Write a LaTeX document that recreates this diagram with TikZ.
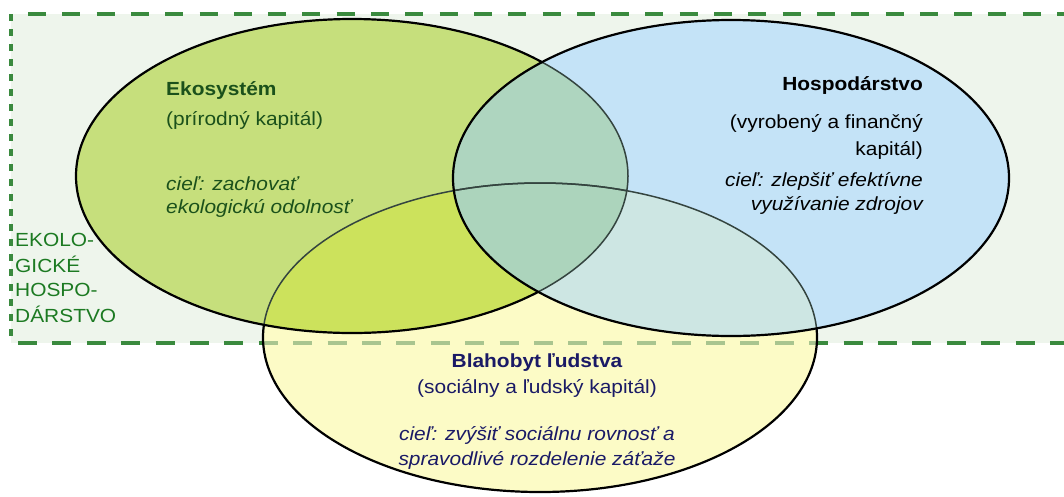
\documentclass[tikz,border=0pt]{standalone}
\usepackage{fontspec}
\setmainfont{Liberation Sans}[FakeStretch=1.1]
\definecolor{bgc}{HTML}{EEF5EC}
\definecolor{dashc}{HTML}{3A8A3E}
\definecolor{dashl}{HTML}{A9C58F}
\definecolor{grn}{HTML}{C6DF7C}
\definecolor{blu}{HTML}{C4E3F7}
\definecolor{yel}{HTML}{FCFBC6}
\definecolor{gbc}{HTML}{AED5BF}
\definecolor{gyc}{HTML}{CCE25C}
\definecolor{byc}{HTML}{CDE6E3}
\definecolor{gbyc}{HTML}{ACD4BC}
\definecolor{innerc}{HTML}{34443F}
\definecolor{ecotext}{HTML}{1B511B}
\definecolor{labtext}{HTML}{1C7A22}
\definecolor{navy}{HTML}{1A1A66}
\newcommand\GEll{(352,176) ellipse [x radius=276, y radius=157]}
\newcommand\BEll{(731,178) ellipse [x radius=278, y radius=158]}
\newcommand\YEll{(540,337.5) ellipse [x radius=277, y radius=154.5]}
\newcommand\BigBox{(-20,-20) rectangle (1100,520)}
\begin{document}
\begin{tikzpicture}[x=1pt,y=-1pt,
  outerline/.style={draw=black, line width=2.2pt},
  innerline/.style={draw=innerc, line width=1.5pt},
  hdash/.style={draw=dashc, line width=3.5pt, dash pattern=on 18pt off 16.3pt},
  txt/.style={inner sep=0pt, font=\fontsize{19}{23}\selectfont},
  lab/.style={txt, text=labtext, anchor=base west}]
\useasboundingbox (0,0) rectangle (1064,496);
% economic frame
\fill[bgc] (11,14) rectangle (1064,343);
\coordinate (tl) at (28,14);
\coordinate (tr) at (1070,14);
\coordinate (bl) at (18,343);
\coordinate (br) at (1070,343);
\coordinate (lt) at (11,14);
\coordinate (lb) at (11,340);
\draw[hdash] (tl) -- (tr);
\draw[hdash, dash pattern=on 19pt off 15.4pt] (bl) -- (br);
\draw[draw=dashc, line width=3.5pt, dash pattern=on 7pt off 8pt] (lt) -- (lb);
% fills
\fill[yel] \YEll;
\begin{scope}
  \clip \YEll;
  \draw[draw=dashl, line width=3.5pt, dash pattern=on 19pt off 15.4pt] (bl) -- (br);
\end{scope}
\fill[grn] \GEll;
\fill[blu] \BEll;
\begin{scope}\clip \GEll; \fill[gyc] \YEll; \end{scope}
\begin{scope}\clip \BEll; \fill[byc] \YEll; \end{scope}
\begin{scope}\clip \GEll; \fill[gbc] \BEll; \end{scope}
\begin{scope}\clip \GEll; \clip \BEll; \fill[gbyc] \YEll; \end{scope}
% outlines
\begin{scope}[even odd rule]
  \clip \BigBox \GEll;
  \clip \BigBox \BEll;
  \draw[outerline] \YEll;
\end{scope}
\begin{scope}\clip \GEll; \draw[innerline] \YEll; \end{scope}
\begin{scope}\clip \BEll; \draw[innerline] \YEll; \end{scope}
\begin{scope}[even odd rule]
  \clip \BigBox \BEll;
  \draw[outerline] \GEll;
\end{scope}
\begin{scope}\clip \BEll; \draw[innerline] \GEll; \end{scope}
\draw[outerline] \BEll;
% Ekosystem
\node[txt, text=ecotext, anchor=base west, font=\fontsize{19}{23}\selectfont\bfseries] (eko1) at (166,95) {Ekosystém};
\node[txt, text=ecotext, anchor=base west] (eko2) at (166,125) {(prírodný kapitál)};
\node[txt, text=ecotext, anchor=base west, font=\fontsize{19}{23}\selectfont\itshape] (eko3) at (166,190) {cieľ: zachovať};
\node[txt, text=ecotext, anchor=base west, font=\fontsize{19}{23}\selectfont\itshape] (eko4) at (166,213) {ekologickú odolnosť};
% Hospodarstvo
\node[txt, anchor=base east, font=\fontsize{19}{23}\selectfont\bfseries] (hos1) at (923,90) {Hospodárstvo};
\node[txt, anchor=base east] (hos2) at (923,128) {(vyrobený a finančný};
\node[txt, anchor=base east] (hos3) at (923,155) {kapitál)};
\node[txt, anchor=base east, font=\fontsize{19}{23}\selectfont\itshape] (hos4) at (923,186) {cieľ: zlepšiť efektívne};
\node[txt, anchor=base east, font=\fontsize{19}{23}\selectfont\itshape] (hos5) at (923,210) {využívanie zdrojov};
% Blahobyt
\node[txt, text=navy, anchor=base, font=\fontsize{19}{23}\selectfont\bfseries] (bla1) at (537,367) {Blahobyt ľudstva};
\node[txt, text=navy, anchor=base] (bla2) at (537,393) {(sociálny a ľudský kapitál)};
\node[txt, text=navy, anchor=base, font=\fontsize{19}{23}\selectfont\itshape] (bla3) at (537,440) {cieľ: zvýšiť sociálnu rovnosť a};
\node[txt, text=navy, anchor=base, font=\fontsize{19}{23}\selectfont\itshape] (bla4) at (537,465) {spravodlivé rozdelenie záťaže};
% frame label
\node[lab] (lab1) at (15,246) {EKOLO-};
\node[lab] (lab2) at (15,272) {GICKÉ};
\node[lab] (lab3) at (15,296) {HOSPO-};
\node[lab] (lab4) at (15,322) {DÁRSTVO};
\end{tikzpicture}
\end{document}
